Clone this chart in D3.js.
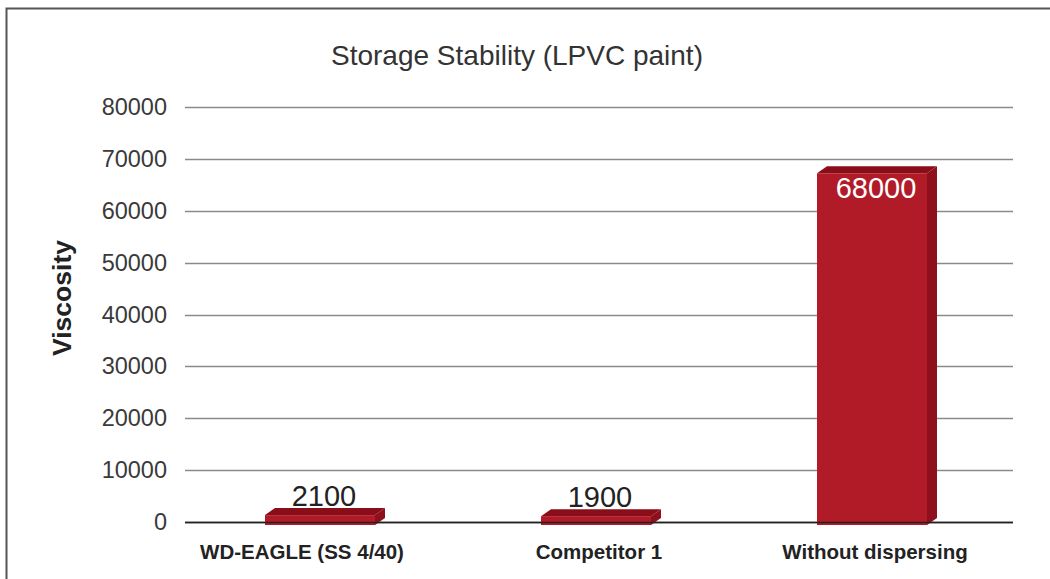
<!DOCTYPE html>
<html>
<head>
<meta charset="utf-8">
<script src="https://cdn.jsdelivr.net/npm/d3@7"></script>
<style>
  body { margin: 0; background: #fff; }
  svg { display: block; font-family: "Liberation Sans", Arial, sans-serif; }
</style>
</head>
<body>
<div id="chart"></div>
<script>
const categories = ['WD-EAGLE (SS 4/40)', 'Competitor 1', 'Without dispersing'];
const viscosity = [2100, 1900, 68000];
const yTicks = [0, 10000, 20000, 30000, 40000, 50000, 60000, 70000, 80000];

const outerWidth = 1050;
const outerHeight = 579;
const margin = {top: 107, right: 37, bottom: 57, left: 185};
const width = outerWidth - margin.left - margin.right;
const height = outerHeight - margin.top - margin.bottom;

const svg = d3.select('#chart').append('svg')
    .attr('width', outerWidth)
    .attr('height', outerHeight);

// Frame
svg.append('path')
    .attr('d', `M6.5,${outerHeight + 2} V8.5 H${outerWidth + 2}`)
    .attr('fill', 'none')
    .attr('stroke', '#555')
    .attr('stroke-width', 2);

const g = svg.append('g')
    .attr('transform', `translate(${margin.left}, ${margin.top})`);

// Scales
const x = d3.scaleBand().domain(categories).range([0, width]);
const y = d3.scaleLinear().domain([0, 80000]).range([height, 0]);

// Grid lines
g.selectAll('.grid')
    .data(yTicks)
    .enter().append('line')
    .attr('x1', 0)
    .attr('x2', width)
    .attr('y1', d => Math.round(y(d)) + 0.5)
    .attr('y2', d => Math.round(y(d)) + 0.5)
    .attr('stroke', d => d === 0 ? '#222' : '#8a8a8a')
    .attr('stroke-width', 1.3);

// Y axis labels
const yAxis = d3.axisLeft(y).tickValues(yTicks).tickSize(0).tickPadding(18)
    .tickFormat(d3.format('d'));
const gy = g.append('g').call(yAxis);
gy.select('.domain').remove();
gy.selectAll('text')
    .attr('font-size', 23.5)
    .attr('fill', '#3a3a3a')
    .style('font-family', '"Liberation Sans", Arial, sans-serif');

// X axis labels
const xAxis = d3.axisBottom(x).tickSize(0).tickPadding(22);
const gx = g.append('g').attr('transform', `translate(0, ${height})`).call(xAxis);
gx.select('.domain').remove();
gx.selectAll('text')
    .attr('font-size', 20.5)
    .attr('font-weight', 'bold')
    .attr('fill', '#222')
    .attr('dx', (d, i) => i === 0 ? -21 : 0)
    .style('font-family', '"Liberation Sans", Arial, sans-serif');

// 3D bars
const barW = 110;
const dx = 10;
const dy = 7;
const bars = g.selectAll('.bar')
    .data(categories.map((c, i) => ({c: c, v: viscosity[i]})))
    .enter().append('g');

bars.each(function(d) {
    const sel = d3.select(this);
    const x0 = x(d.c) + x.bandwidth() / 2 - 58;
    const yTop = y(d.v) + 4;
    const yBot = y(0) + 3;
    // side face
    sel.append('path')
        .attr('d', `M${x0 + barW},${yTop} L${x0 + barW + dx},${yTop - dy} L${x0 + barW + dx},${yBot - dy} L${x0 + barW},${yBot} Z`)
        .attr('fill', '#8e101c');
    // top face
    sel.append('path')
        .attr('d', `M${x0},${yTop} L${x0 + dx},${yTop - dy} L${x0 + barW + dx},${yTop - dy} L${x0 + barW},${yTop} Z`)
        .attr('fill', '#8a0e19');
    // front face
    sel.append('rect')
        .attr('x', x0)
        .attr('y', yTop)
        .attr('width', barW)
        .attr('height', yBot - yTop)
        .attr('fill', '#b11b28');
});

// Redraw baseline over small bars
g.append('line')
    .attr('x1', 0).attr('x2', width)
    .attr('y1', Math.round(y(0)) + 0.5).attr('y2', Math.round(y(0)) + 0.5)
    .attr('stroke', '#222').attr('stroke-width', 1.3);

// Value labels
bars.append('text')
    .attr('x', d => x(d.c) + x.bandwidth() / 2 + 1)
    .attr('y', d => d.v > 20000 ? y(d.v) + 29 : y(d.v) - 5)
    .attr('text-anchor', 'middle')
    .attr('font-size', 29)
    .attr('fill', d => d.v > 20000 ? '#fff' : '#222')
    .text(d => d.v);

// Title
svg.append('text')
    .attr('x', 517)
    .attr('y', 65)
    .attr('text-anchor', 'middle')
    .attr('font-size', 28)
    .attr('fill', '#333')
    .text('Storage Stability (LPVC paint)');

// Y axis title
svg.append('text')
    .attr('transform', `translate(71, ${298}) rotate(-90)`)
    .attr('text-anchor', 'middle')
    .attr('font-size', 26.5)
    .attr('font-weight', 'bold')
    .attr('fill', '#222')
    .text('Viscosity');
</script>
</body>
</html>
